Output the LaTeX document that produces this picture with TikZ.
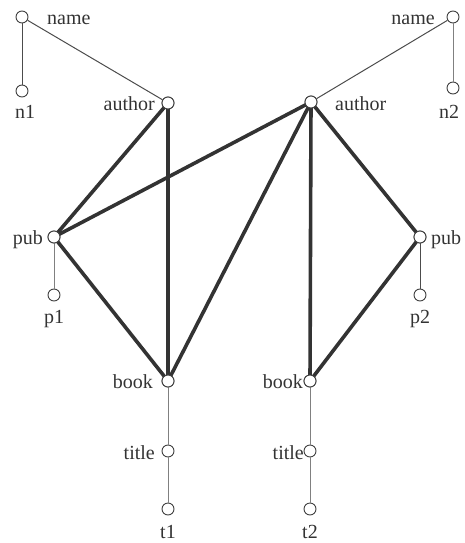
\documentclass[tikz,border=0pt]{standalone}
\usepackage{fontspec}
\setmainfont{Liberation Serif}
\begin{document}
\begin{tikzpicture}[x=1pt,y=-1pt,
  vtx/.style={circle,draw=black!75,line width=0.9pt,fill=white,minimum size=12pt,inner sep=0pt},
  lbl/.style={inner sep=0pt,font=\fontsize{20}{24}\selectfont,text=black!80},
  thin/.style={line width=1pt,draw=black!70},
  thinl/.style={line width=1pt,draw=black!50},
  thick/.style={line width=3.6pt,draw=black!80}]
\useasboundingbox (0,0) rectangle (464,543);
% vertices
\node[vtx] (nameL) at (22,17) {};
\node[vtx] (n1) at (22,91) {};
\node[vtx] (authL) at (168,103) {};
\node[vtx] (authR) at (311,102) {};
\node[vtx] (nameR) at (453,17) {};
\node[vtx] (n2) at (453,88) {};
\node[vtx] (pubL) at (54,237) {};
\node[vtx] (p1) at (54,295) {};
\node[vtx] (pubR) at (420,237) {};
\node[vtx] (p2) at (420,295) {};
\node[vtx] (bookL) at (168,381) {};
\node[vtx] (titleL) at (168,451) {};
\node[vtx] (t1) at (168,509) {};
\node[vtx] (bookR) at (310,381) {};
\node[vtx] (titleR) at (310,451) {};
\node[vtx] (t2) at (310,509) {};
% thin edges
\draw[thin] (nameL) -- (n1);
\draw[thin] (nameL) -- (authL);
\draw[thin] (nameR) -- (authR);
\draw[thinl] (nameR) -- (n2);
\draw[thinl] (pubL) -- (p1);
\draw[thin] (pubR) -- (p2);
\draw[thinl] (bookL) -- (titleL);
\draw[thinl] (titleL) -- (t1);
\draw[thinl] (bookR) -- (titleR);
\draw[thinl] (titleR) -- (t2);
% thick edges
\draw[thick] (authL.center) -- (pubL.center);
\draw[thick] (authL.center) -- (bookL.center);
\draw[thick] (authR.center) -- (pubL.center);
\draw[thick] (authR.center) -- (bookL.center);
\draw[thick] (authR.center) -- (bookR.center);
\draw[thick] (authR.center) -- (pubR.center);
\draw[thick] (pubL.center) -- (bookL.center);
\draw[thick] (pubR.center) -- (bookR.center);
% redraw vertices on top of thick lines
\foreach \n in {authL,authR,pubL,pubR,bookL,bookR}{
  \node[vtx] at (\n) {};
}
% labels
\node[lbl,anchor=base west] (lnameL) at (47,25) {name};
\node[lbl,anchor=base] (ln1) at (25,118) {n1};
\node[lbl,anchor=base east] (lauthL) at (155,110) {author};
\node[lbl,anchor=base west] (lauthR) at (335,110) {author};
\node[lbl,anchor=base east] (lnameR) at (435,25) {name};
\node[lbl,anchor=base] (ln2) at (449,118) {n2};
\node[lbl,anchor=base east] (lpubL) at (43,244) {pub};
\node[lbl,anchor=base] (lp1) at (54,323) {p1};
\node[lbl,anchor=base west] (lpubR) at (431,244) {pub};
\node[lbl,anchor=base] (lp2) at (420,323) {p2};
\node[lbl,anchor=base east] (lbookL) at (153,388) {book};
\node[lbl,anchor=base east] (ltitleL) at (155,459) {title};
\node[lbl,anchor=base] (lt1) at (168,538) {t1};
\node[lbl,anchor=base east] (lbookR) at (303,388) {book};
\node[lbl,anchor=base east] (ltitleR) at (304,459) {title};
\node[lbl,anchor=base] (lt2) at (310,538) {t2};
\end{tikzpicture}
\end{document}
